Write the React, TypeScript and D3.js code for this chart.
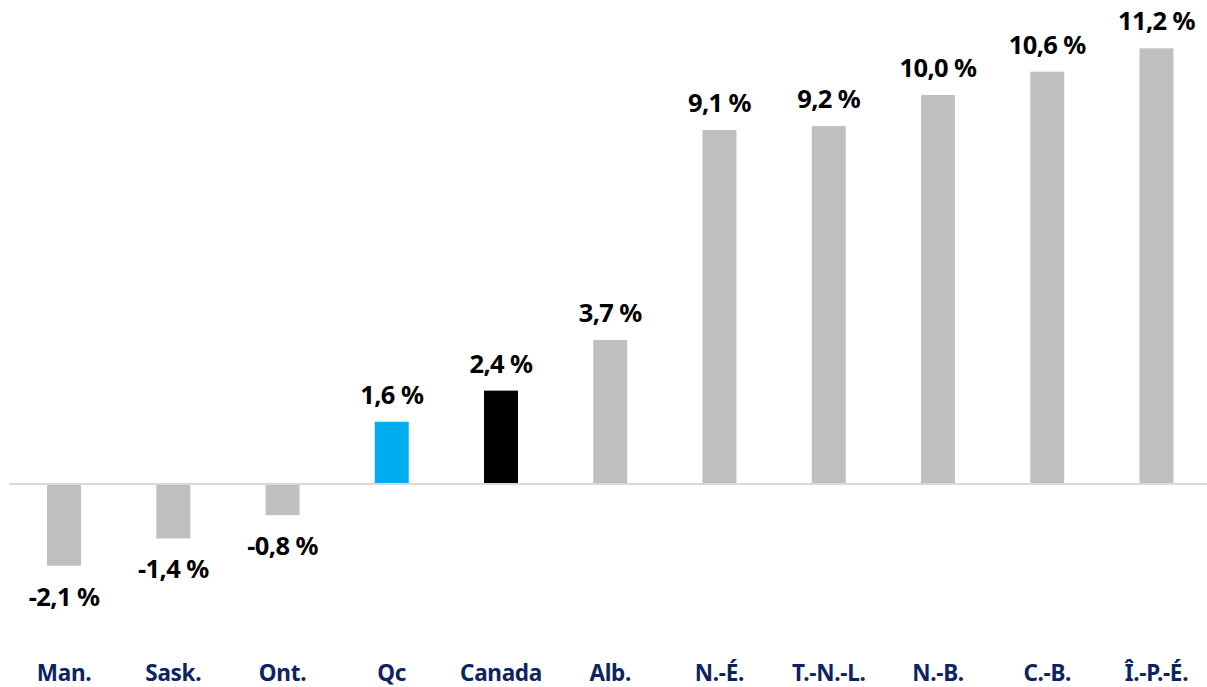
import React from "react";
import * as d3 from "d3";

const categories = ["Man.", "Sask.", "Ont.", "Qc", "Canada", "Alb.", "N.-É.", "T.-N.-L.", "N.-B.", "C.-B.", "Î.-P.-É."];
const values = [-2.1, -1.4, -0.8, 1.6, 2.4, 3.7, 9.1, 9.2, 10.0, 10.6, 11.2];
const colors = ["#bfbfbf", "#bfbfbf", "#bfbfbf", "#00aeef", "#000000", "#bfbfbf", "#bfbfbf", "#bfbfbf", "#bfbfbf", "#bfbfbf", "#bfbfbf"];

const W = 1207;
const H = 687;
const FONT = "'Noto Sans', 'Open Sans', sans-serif";

export default function App() {
  const x = d3
    .scaleBand<string>()
    .domain(categories)
    .range([9.4, 1211.1])
    .paddingInner(0.689)
    .paddingOuter(0.3445);
  const y = d3.scaleLinear().domain([0, 10]).range([484, 95]);
  const fmt = (v: number) => d3.format(".1f")(v).replace("−", "-").replace(".", ",") + " %";

  return (
    <svg
      width={W}
      height={H}
      style={{ position: "absolute", left: 0, top: 0, background: "#fff" }}
      fontFamily={FONT}
    >
      {categories.map((c, i) => {
        const v = values[i];
        const x0 = x(c)!;
        const top = Math.min(y(v), y(0));
        const h = Math.abs(y(v) - y(0));
        return (
          <rect key={c} x={x0} y={top} width={x.bandwidth()} height={h} fill={colors[i]} />
        );
      })}
      <line x1={9} x2={1207} y1={y(0)} y2={y(0)} stroke="#d9d9d9" strokeWidth={2} />
      {categories.map((c, i) => {
        const v = values[i];
        const cx = x(c)! + x.bandwidth() / 2;
        const ty = v >= 0 ? y(v) - 18 : y(v) + 40;
        return (
          <text
            key={c + "v"}
            x={cx}
            y={ty}
            textAnchor="middle"
            fontSize={25.5}
            fontWeight={700}
            letterSpacing={-0.6}
            fill="#000"
          >
            {fmt(v)}
          </text>
        );
      })}
      {categories.map((c) => {
        const cx = x(c)! + x.bandwidth() / 2;
        return (
          <text
            key={c + "l"}
            x={cx}
            y={680.5}
            textAnchor="middle"
            fontSize={22.5}
            fontWeight={700}
            letterSpacing={-0.3}
            fill="#0c2461"
          >
            {c}
          </text>
        );
      })}
    </svg>
  );
}
